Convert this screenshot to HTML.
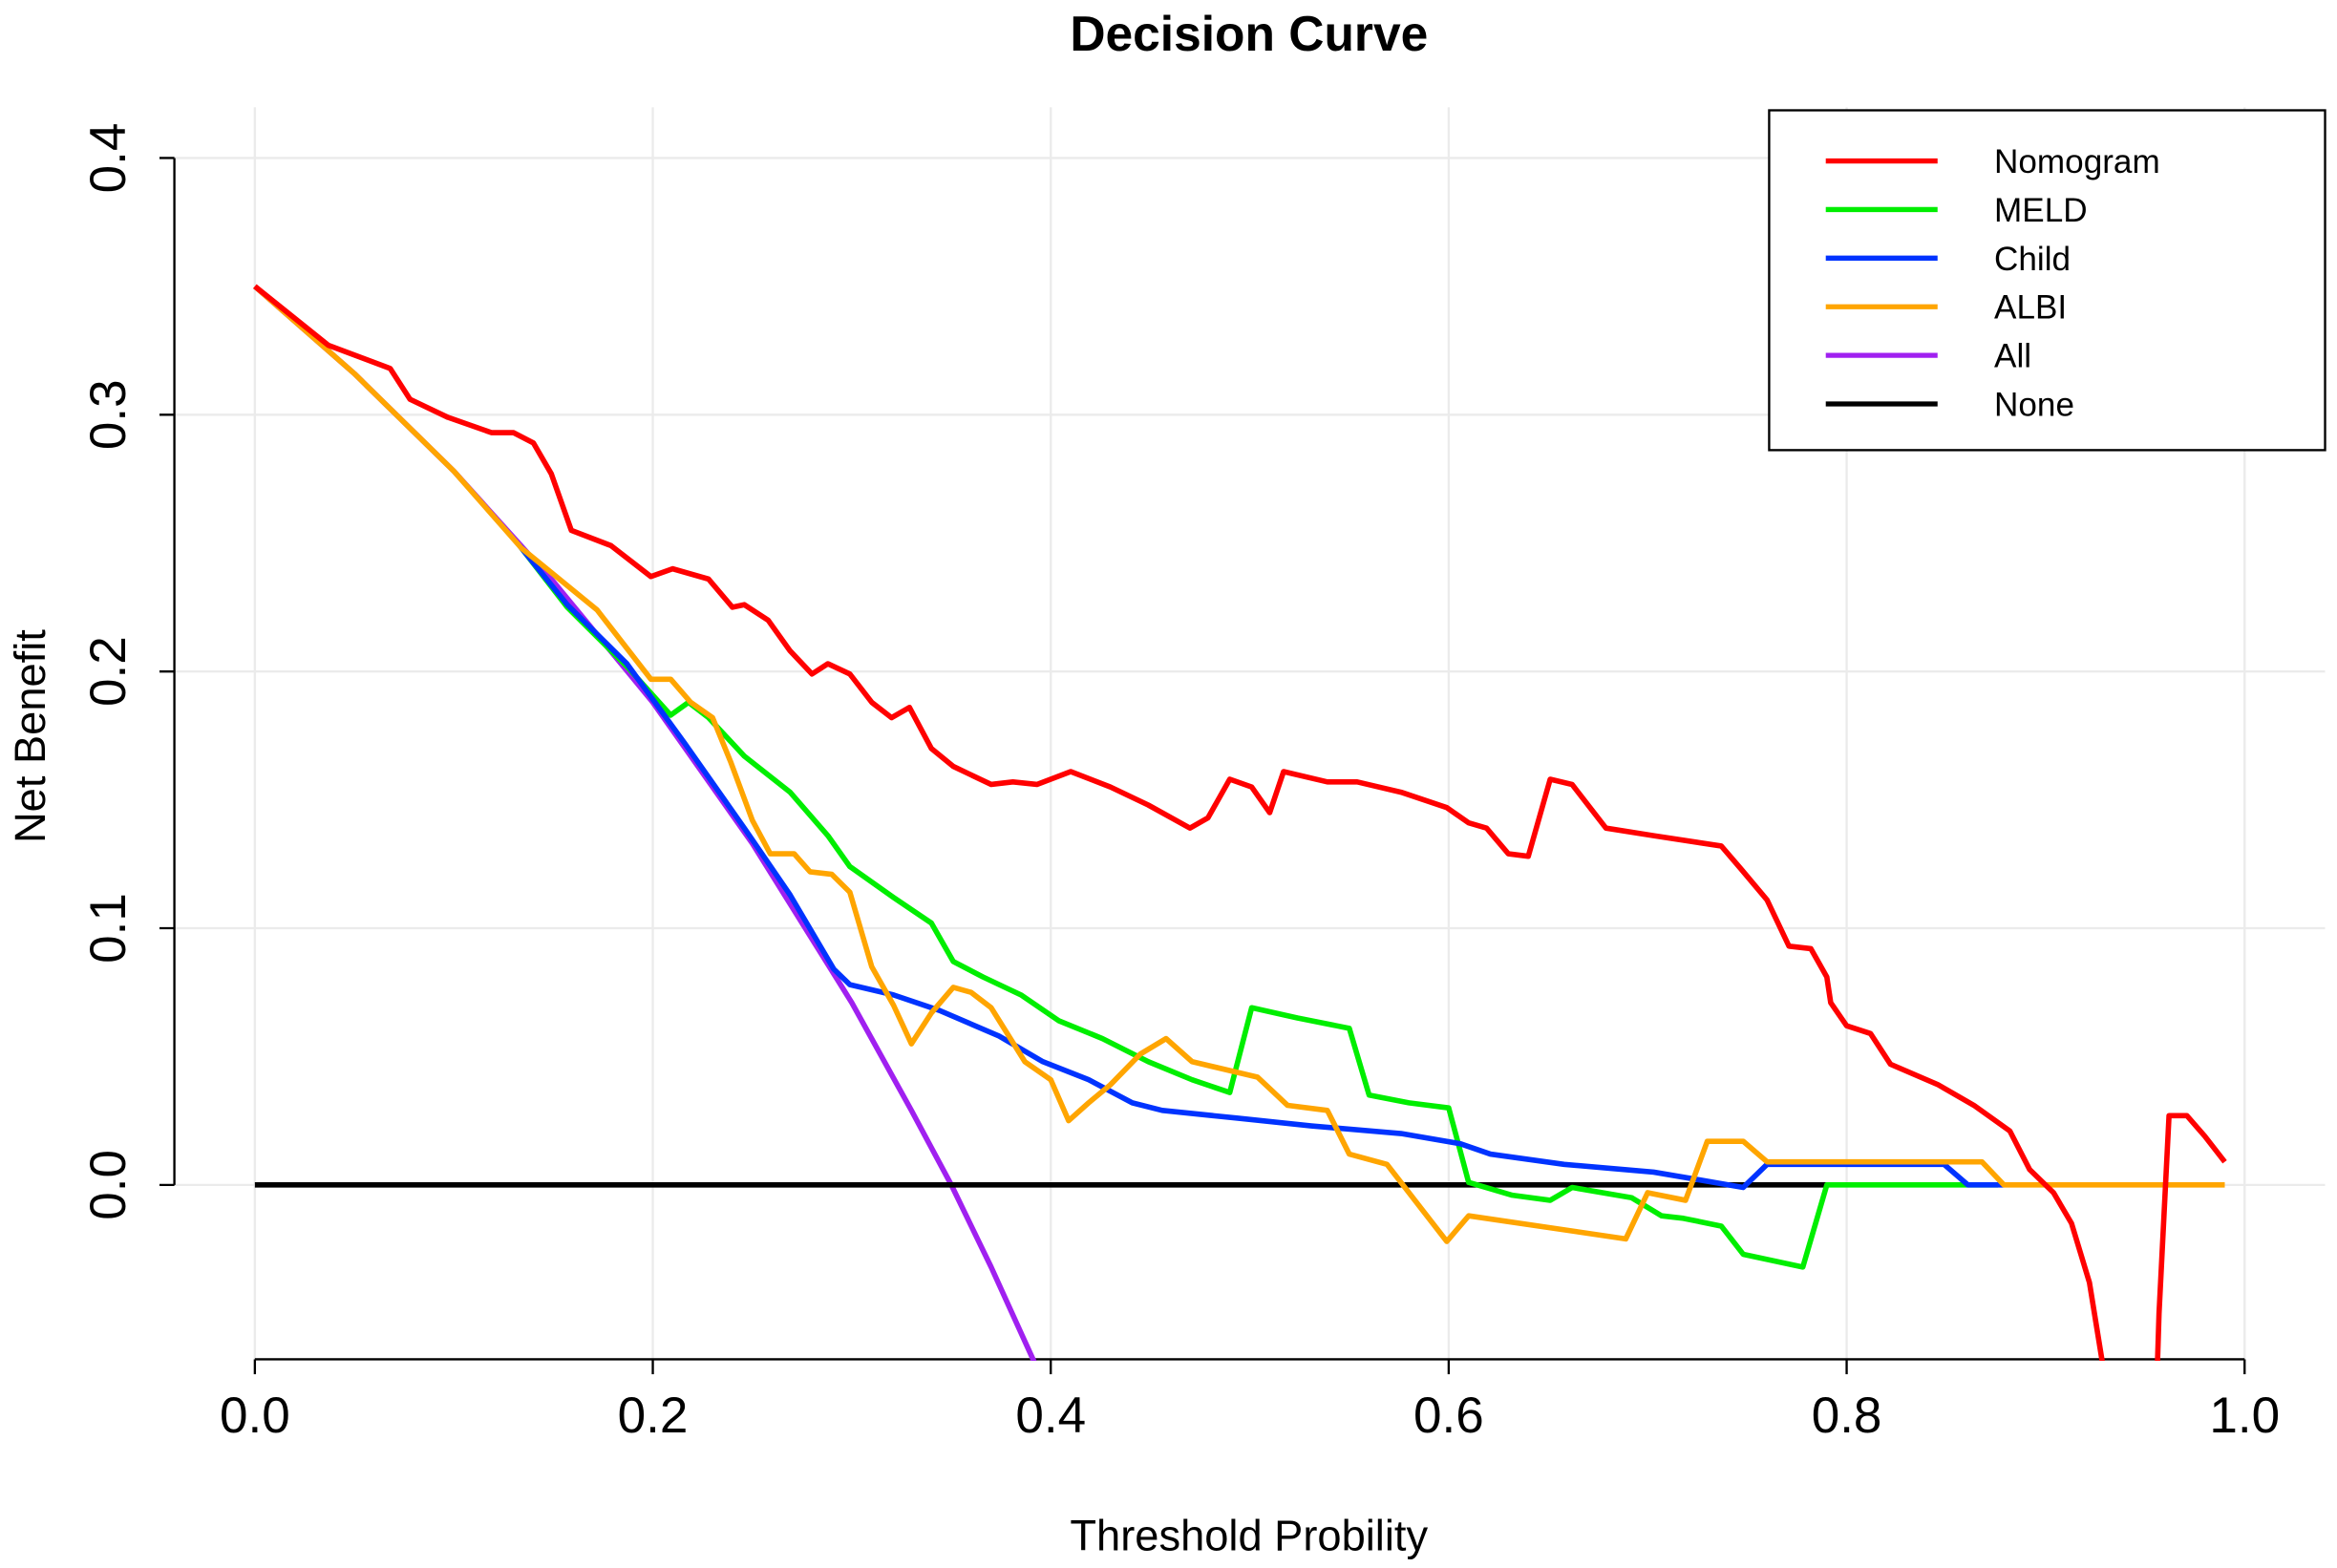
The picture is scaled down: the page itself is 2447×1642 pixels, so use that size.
<!DOCTYPE html>
<html><head><meta charset="utf-8"><style>
html,body{margin:0;padding:0;background:#fff;}
svg{display:block;font-family:"Liberation Sans",Arial,sans-serif;}
</style></head><body>
<svg id="chart" width="2447" height="1642" viewBox="0 0 1568 1052" preserveAspectRatio="none" xmlns="http://www.w3.org/2000/svg">
<defs><clipPath id="plotclip"><rect x="100" y="70" width="1468" height="843"/></clipPath></defs>
<rect width="1568" height="1052" fill="#fff"/>
<text x="838" y="34" text-anchor="middle" font-size="33" font-weight="bold">Decision Curve</text>
<g id="grid"></g>
<g id="axes"></g>
<g id="series" clip-path="url(#plotclip)"></g>
<text x="838" y="1040" text-anchor="middle" font-size="29">Threshold Probility</text>
<text transform="translate(30,494) rotate(-90)" text-anchor="middle" font-size="29">Net Benefit</text>
<g>
<rect x="1187" y="74" width="373" height="228" fill="#fff" stroke="#000" stroke-width="1.5"/>
<g id="legend-items"></g>
</g>
</svg>
<script>
const xTicks=[0,0.2,0.4,0.6,0.8,1.0];
const xTickLabels=["0.0","0.2","0.4","0.6","0.8","1.0"];
const yTicks=[0,0.1,0.2,0.3,0.4];
const yTickLabels=["0.0","0.1","0.2","0.3","0.4"];
const seriesNames=["All","None","MELD","Child","ALBI","Nomogram"];
const legendNames=["Nomogram","MELD","Child","ALBI","All","None"];
const colors={Nomogram:"#ff0000",MELD:"#00ee00",Child:"#0033ff",ALBI:"#ffa500",All:"#a020f0",None:"#000000"};
const allT=[0,0.05,0.1,0.15,0.2,0.25,0.3,0.33,0.35,0.37,0.39,0.4];
const allV=[0.35,0.316,0.278,0.235,0.188,0.133,0.071,0.029,0.0,-0.032,-0.066,-0.083];
const noneT=[0,0.79];
const noneV=[0,0];
const nomT=[0,0.037,0.068,0.078,0.097,0.119,0.13,0.14,0.149,0.159,0.179,0.199,0.21,0.228,0.24,0.246,0.258,0.269,0.28,0.288,0.299,0.31,0.32,0.329,0.34,0.351,0.37,0.381,0.393,0.41,0.43,0.449,0.47,0.479,0.49,0.501,0.51,0.517,0.539,0.554,0.576,0.599,0.61,0.619,0.63,0.64,0.651,0.662,0.679,0.703,0.737,0.747,0.76,0.771,0.782,0.79,0.792,0.80,0.812,0.822,0.846,0.864,0.882,0.892,0.904,0.913,0.922,0.935,0.955,0.957,0.962,0.971,0.98,0.99];
const nomV=[0.35,0.327,0.318,0.306,0.299,0.293,0.293,0.289,0.277,0.255,0.249,0.237,0.24,0.236,0.225,0.226,0.22,0.208,0.199,0.203,0.199,0.188,0.182,0.186,0.17,0.163,0.156,0.157,0.156,0.161,0.155,0.148,0.139,0.143,0.158,0.155,0.145,0.161,0.157,0.157,0.153,0.147,0.141,0.139,0.129,0.128,0.158,0.156,0.139,0.136,0.132,0.123,0.111,0.093,0.092,0.081,0.071,0.062,0.059,0.047,0.039,0.031,0.021,0.006,-0.003,-0.015,-0.038,-0.1,-0.1,-0.05,0.027,0.027,0.019,0.009];
const meldT=[0.134,0.157,0.187,0.209,0.218,0.228,0.246,0.269,0.288,0.299,0.321,0.34,0.351,0.366,0.385,0.404,0.426,0.449,0.471,0.49,0.501,0.524,0.55,0.56,0.58,0.6,0.61,0.632,0.651,0.662,0.692,0.707,0.718,0.737,0.748,0.778,0.79,0.876];
const meldV=[0.248,0.225,0.202,0.183,0.188,0.182,0.167,0.153,0.136,0.124,0.112,0.102,0.087,0.081,0.074,0.064,0.057,0.048,0.041,0.036,0.069,0.065,0.061,0.035,0.032,0.030,0.001,-0.004,-0.006,-0.001,-0.005,-0.012,-0.013,-0.016,-0.027,-0.032,0,0];
const childT=[0.133,0.157,0.187,0.216,0.246,0.269,0.291,0.299,0.321,0.344,0.374,0.396,0.419,0.441,0.456,0.494,0.531,0.576,0.606,0.621,0.658,0.703,0.726,0.748,0.76,0.849,0.861,0.879];
const childV=[0.249,0.226,0.203,0.172,0.139,0.113,0.084,0.078,0.074,0.068,0.058,0.048,0.041,0.032,0.029,0.026,0.023,0.020,0.016,0.012,0.008,0.005,0.002,-0.001,0.008,0.008,0,0];
const albiT=[0,0.05,0.1,0.134,0.172,0.199,0.209,0.219,0.23,0.239,0.25,0.259,0.271,0.279,0.29,0.299,0.31,0.321,0.33,0.34,0.351,0.36,0.37,0.387,0.4,0.409,0.419,0.43,0.445,0.458,0.471,0.504,0.519,0.539,0.55,0.569,0.599,0.61,0.689,0.7,0.719,0.73,0.748,0.76,0.868,0.879,0.99];
const albiV=[0.35,0.316,0.278,0.248,0.224,0.197,0.197,0.188,0.182,0.165,0.142,0.129,0.129,0.122,0.121,0.114,0.085,0.07,0.055,0.067,0.077,0.075,0.069,0.048,0.041,0.025,0.032,0.039,0.051,0.057,0.048,0.042,0.031,0.029,0.012,0.008,-0.022,-0.012,-0.021,-0.003,-0.006,0.017,0.017,0.009,0.009,0,0];
const data={All:[allT,allV],None:[noneT,noneV],Nomogram:[nomT,nomV],MELD:[meldT,meldV],Child:[childT,childV],ALBI:[albiT,albiV]};

const X0=171,X1=1506,Y0=795,Y4=106,YB=912;
const xs=v=>X0+(X1-X0)*v;
const ys=v=>Y0-(Y0-Y4)*v/0.4;
const NS="http://www.w3.org/2000/svg";
function mk(tag,attrs,parent){const e=document.createElementNS(NS,tag);for(const k in attrs)e.setAttribute(k,attrs[k]);parent.appendChild(e);return e;}
const grid=document.getElementById('grid'),axes=document.getElementById('axes'),ser=document.getElementById('series'),leg=document.getElementById('legend-items');
xTicks.forEach((t,i)=>{
  const g=mk('line',{x1:xs(t),x2:xs(t),y1:72,y2:YB,stroke:'#ebebeb','stroke-width':1.5},grid);
  
  
  const tk=mk('line',{x1:xs(t),x2:xs(t),y1:YB,y2:YB+10,stroke:'#000','stroke-width':1.5},axes);
  
  
  const lb=mk('text',{x:xs(t),y:YB+49,'text-anchor':'middle','font-size':34},axes);
  lb.textContent=xTickLabels[i];
  
  
});
yTicks.forEach((t,i)=>{
  const g=mk('line',{x1:117,x2:1560,y1:ys(t),y2:ys(t),stroke:'#ebebeb','stroke-width':1.5},grid);
  
  
  const tk=mk('line',{x1:107,x2:117,y1:ys(t),y2:ys(t),stroke:'#000','stroke-width':1.5},axes);
  
  
  const lb=mk('text',{transform:`translate(84,${ys(t)}) rotate(-90)`,'text-anchor':'middle','font-size':34},axes);
  lb.textContent=yTickLabels[i];
  
  
});
const xa=mk('line',{x1:X0,x2:X1,y1:YB,y2:YB,stroke:'#000','stroke-width':1.5},axes);


const ya=mk('line',{x1:117,x2:117,y1:ys(0.4),y2:ys(0),stroke:'#000','stroke-width':1.5},axes);


seriesNames.forEach(n=>{
  const [T,V]=data[n];
  const d=T.map((t,i)=>(i?'L':'M')+xs(t).toFixed(1)+','+ys(V[i]).toFixed(1)).join(' ');
  const p=mk('path',{d:d,fill:'none',stroke:colors[n],'stroke-width':3.6,'stroke-linejoin':'round'},ser);
  
  
});
legendNames.forEach((n,i)=>{
  const y=108+i*32.6;
  const l=mk('line',{x1:1225,x2:1300,y1:y,y2:y,stroke:colors[n],'stroke-width':3.4},leg);
  
  
  const t=mk('text',{x:1338,y:y+8,'font-size':22.5},leg);
  t.textContent=n;
  
  
});
</script>
</body></html>
